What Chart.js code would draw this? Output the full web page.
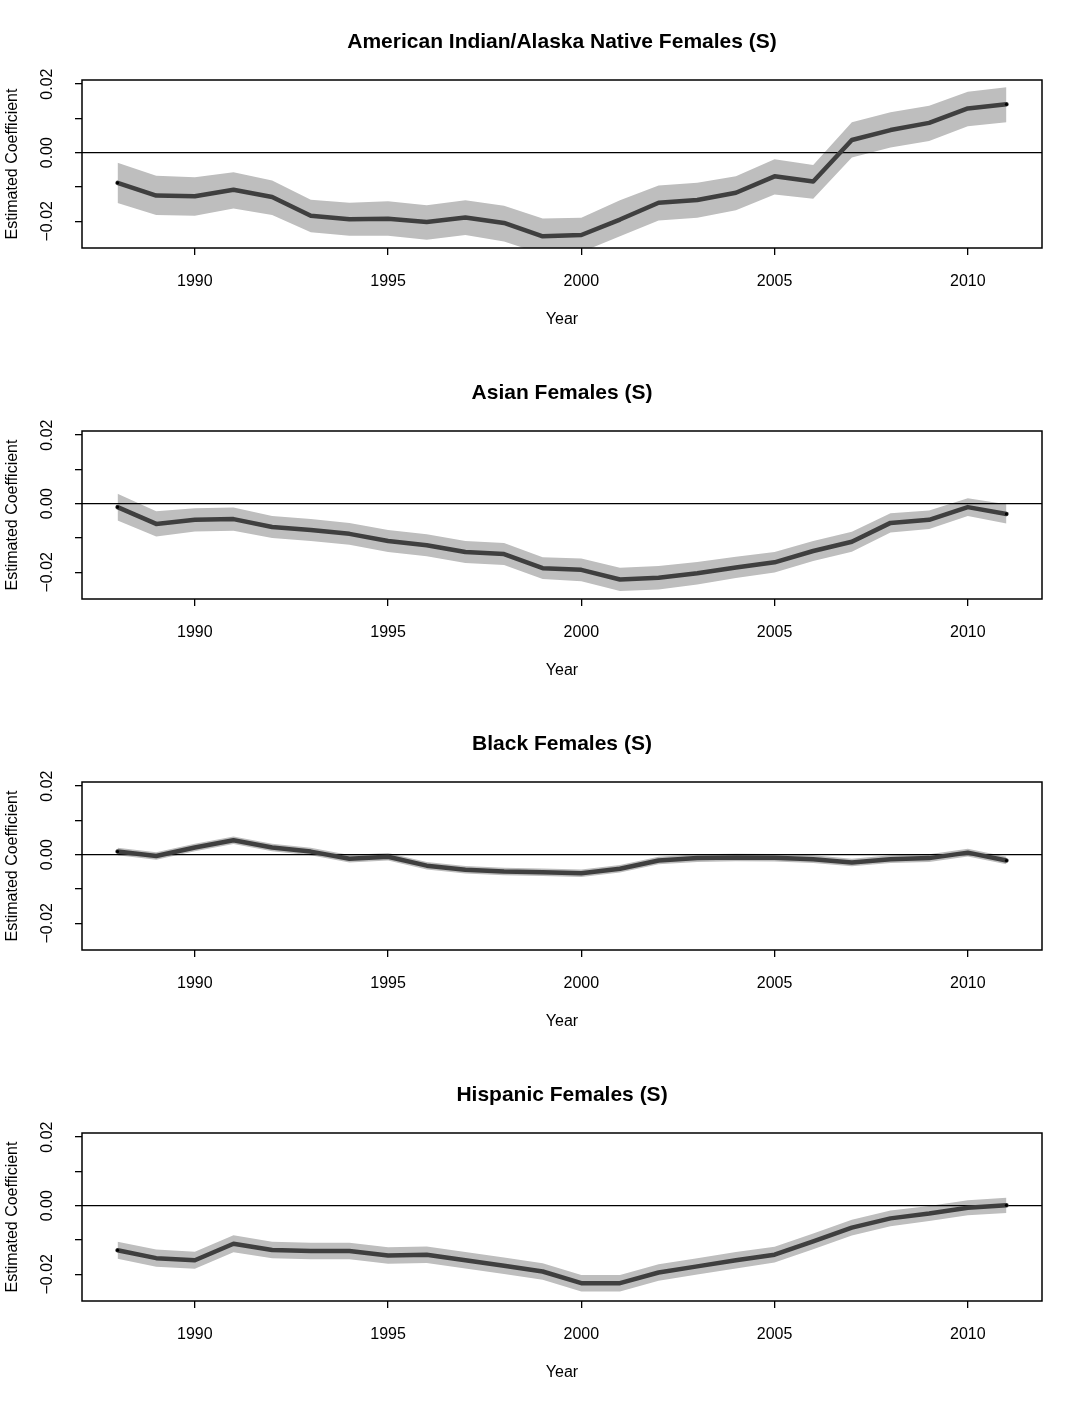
<!DOCTYPE html>
<html>
<head>
<meta charset="utf-8">
<script src="https://cdn.jsdelivr.net/npm/chart.js@4.4.1/dist/chart.umd.min.js"></script>
<style>
  html, body { margin: 0; padding: 0; background: #fff; }
  .painel { width: 1084px; height: 351px; }
  canvas { display: block; }
</style>
</head>
<body>
<div class="painel"><canvas id="c0" width="1084" height="351"></canvas></div>
<div class="painel"><canvas id="c1" width="1084" height="351"></canvas></div>
<div class="painel"><canvas id="c2" width="1084" height="351"></canvas></div>
<div class="painel"><canvas id="c3" width="1084" height="351"></canvas></div>
<script>
// anos e rotulos dos eixos
const anos = [1988, 1989, 1990, 1991, 1992, 1993, 1994, 1995, 1996, 1997, 1998, 1999,
  2000, 2001, 2002, 2003, 2004, 2005, 2006, 2007, 2008, 2009, 2010, 2011];
const anosTicks = [1990, 1995, 2000, 2005, 2010];
const yTicks = [-0.02, -0.01, 0, 0.01, 0.02];
const yRotulos = ['\u22120.02', '', '0.00', '', '0.02'];
const titulos = [
  'American Indian/Alaska Native Females (S)',
  'Asian Females (S)',
  'Black Females (S)',
  'Hispanic Females (S)'
];

// American Indian/Alaska Native
const ajusteAian = [-0.0088, -0.0125, -0.0127, -0.0108, -0.0129, -0.0184, -0.0194, -0.0193, -0.0202, -0.0189, -0.0205, -0.0244,
  -0.0240, -0.0195, -0.0146, -0.0138, -0.0117, -0.0069, -0.0084, 0.0037, 0.0066, 0.0087, 0.0129, 0.0141];
const supAian = [-0.0029, -0.0067, -0.0072, -0.0057, -0.0081, -0.0137, -0.0146, -0.0142, -0.0153, -0.0139, -0.0155, -0.0192,
  -0.0190, -0.0139, -0.0096, -0.0088, -0.0069, -0.0019, -0.0036, 0.0089, 0.0118, 0.0137, 0.0178, 0.0191];
const infAian = [-0.0147, -0.0182, -0.0184, -0.0163, -0.0182, -0.0232, -0.0242, -0.0242, -0.0254, -0.0240, -0.0259, -0.0296,
  -0.0290, -0.0244, -0.0198, -0.0190, -0.0168, -0.0122, -0.0134, -0.0014, 0.0015, 0.0034, 0.0077, 0.0089];

// Asian
const ajusteAsia = [-0.0010, -0.0059, -0.0047, -0.0045, -0.0068, -0.0077, -0.0088, -0.0109, -0.0121, -0.0141, -0.0147, -0.0188,
  -0.0193, -0.0221, -0.0216, -0.0203, -0.0186, -0.0171, -0.0138, -0.0111, -0.0056, -0.0047, -0.0010, -0.0030];
const supAsia = [0.0029, -0.0022, -0.0013, -0.0011, -0.0036, -0.0045, -0.0056, -0.0077, -0.0089, -0.0109, -0.0115, -0.0156,
  -0.0160, -0.0187, -0.0182, -0.0170, -0.0155, -0.0141, -0.0109, -0.0082, -0.0028, -0.0020, 0.0016, -0.0002];
const infAsia = [-0.0049, -0.0096, -0.0081, -0.0079, -0.0100, -0.0109, -0.0120, -0.0141, -0.0153, -0.0173, -0.0179, -0.0220,
  -0.0226, -0.0255, -0.0250, -0.0236, -0.0217, -0.0201, -0.0167, -0.0140, -0.0084, -0.0074, -0.0036, -0.0058];

// Black
const ajusteNegra = [0.0009, -0.0004, 0.0021, 0.0042, 0.0021, 0.0009, -0.0012, -0.0006, -0.0032, -0.0044, -0.0049, -0.0051,
  -0.0054, -0.0041, -0.0017, -0.0010, -0.0008, -0.0009, -0.0013, -0.0023, -0.0013, -0.0010, 0.0006, -0.0017];
const supNegra = [0.0020, 0.0007, 0.0032, 0.0053, 0.0032, 0.0020, -0.0001, 0.0005, -0.0021, -0.0033, -0.0038, -0.0040,
  -0.0043, -0.0030, -0.0006, 0.0001, 0.0003, 0.0002, -0.0002, -0.0012, -0.0002, 0.0001, 0.0017, -0.0006];
const infNegra = [-0.0002, -0.0015, 0.0010, 0.0031, 0.0010, -0.0002, -0.0023, -0.0017, -0.0043, -0.0055, -0.0060, -0.0062,
  -0.0065, -0.0052, -0.0028, -0.0021, -0.0019, -0.0020, -0.0024, -0.0034, -0.0024, -0.0021, -0.0005, -0.0028];

// Hispanic
const ajusteHisp = [-0.0130, -0.0153, -0.0159, -0.0111, -0.0129, -0.0132, -0.0132, -0.0145, -0.0143, -0.0159, -0.0175, -0.0192,
  -0.0226, -0.0226, -0.0195, -0.0177, -0.0159, -0.0143, -0.0104, -0.0064, -0.0037, -0.0023, -0.0006, 0.0001];
const supHisp = [-0.0105, -0.0128, -0.0134, -0.0086, -0.0105, -0.0108, -0.0108, -0.0121, -0.0119, -0.0135, -0.0151, -0.0168,
  -0.0202, -0.0202, -0.0171, -0.0153, -0.0135, -0.0120, -0.0081, -0.0041, -0.0014, -0.0001, 0.0016, 0.0023];
const infHisp = [-0.0155, -0.0178, -0.0184, -0.0136, -0.0153, -0.0156, -0.0156, -0.0169, -0.0167, -0.0183, -0.0199, -0.0216,
  -0.0250, -0.0250, -0.0219, -0.0201, -0.0183, -0.0166, -0.0127, -0.0087, -0.0060, -0.0045, -0.0028, -0.0021];

const paineis = [
  { ajuste: ajusteAian, sup: supAian, inf: infAian },
  { ajuste: ajusteAsia, sup: supAsia, inf: infAsia },
  { ajuste: ajusteNegra, sup: supNegra, inf: infNegra },
  { ajuste: ajusteHisp, sup: supHisp, inf: infHisp }
];

const FONTE = '"Liberation Sans", Arial, Helvetica, sans-serif';
Chart.defaults.color = '#000';
Chart.defaults.font.family = FONTE;

function pts(vals) { return anos.map((a, i) => ({ x: a, y: vals[i] })); }

// linha do zero, moldura, titulo e rotulos verticais do eixo y (estilo R)
const estiloR = {
  id: 'estiloR',
  beforeDatasetDraw(chart, args) {
    if (args.index !== 0) return;
    const { ctx, chartArea: a, scales: { y } } = chart;
    const y0 = y.getPixelForValue(0);
    ctx.save();
    ctx.strokeStyle = '#000'; ctx.lineWidth = 1.3;
    ctx.beginPath(); ctx.moveTo(a.left, y0); ctx.lineTo(a.right, y0); ctx.stroke();
    ctx.restore();
  },
  afterDraw(chart, args, opts) {
    const { ctx, chartArea: a, scales: { y } } = chart;
    ctx.save();
    ctx.strokeStyle = '#000'; ctx.lineWidth = 1.5;
    ctx.strokeRect(a.left, a.top, a.right - a.left, a.bottom - a.top);
    ctx.fillStyle = '#000';
    ctx.textAlign = 'center'; ctx.textBaseline = 'middle';
    ctx.font = 'bold 21px ' + FONTE;
    ctx.fillText(opts.titulo, (a.left + a.right) / 2, 42);
    ctx.font = '16px ' + FONTE;
    yTicks.forEach((v, i) => {
      if (!yRotulos[i]) return;
      ctx.save();
      ctx.translate(48, y.getPixelForValue(v));
      ctx.rotate(-Math.PI / 2);
      ctx.fillText(yRotulos[i], 0, 0);
      ctx.restore();
    });
    ctx.restore();
  }
};

function desenhar(idx) {
  const p = paineis[idx];
  const ultimo = anos.length - 1;
  new Chart(document.getElementById('c' + idx), {
    type: 'line',
    data: {
      datasets: [
        { data: pts(p.ajuste), borderColor: '#3f3f3f', borderWidth: 4.5, fill: false,
          borderJoinStyle: 'round', borderCapStyle: 'round', tension: 0,
          pointRadius: c => (c.dataIndex === 0 || c.dataIndex === ultimo) ? 1.6 : 0,
          pointBackgroundColor: '#000', pointBorderWidth: 0 },
        { data: pts(p.sup), borderWidth: 0, pointRadius: 0, fill: '+1', backgroundColor: '#bebebe', tension: 0 },
        { data: pts(p.inf), borderWidth: 0, pointRadius: 0, fill: false, tension: 0 }
      ]
    },
    options: {
      responsive: false, animation: false, events: [],
      layout: { padding: { top: 80, right: 42, left: 0, bottom: 0 } },
      plugins: {
        legend: { display: false }, tooltip: { enabled: false },
        filler: { drawTime: 'beforeDatasetsDraw' },
        estiloR: { titulo: titulos[idx] }
      },
      scales: {
        x: {
          type: 'linear', min: 1987.08, max: 2011.92,
          afterBuildTicks: s => { s.ticks = anosTicks.map(v => ({ value: v })); },
          afterFit: s => { s.height = 103; },
          ticks: { font: { size: 16 }, padding: 17, maxRotation: 0, callback: v => String(v) },
          grid: { drawOnChartArea: false, drawTicks: true, tickLength: 7, color: '#000', lineWidth: 1.3 },
          border: { display: false },
          title: { display: true, text: 'Year', font: { size: 16 }, padding: { top: 0, bottom: 22 } }
        },
        y: {
          type: 'linear', min: -0.0278, max: 0.0212,
          afterBuildTicks: s => { s.ticks = yTicks.map(v => ({ value: v })); },
          afterFit: s => { s.width = 82; },
          ticks: { display: false },
          grid: { drawOnChartArea: false, drawTicks: true, tickLength: 7, color: '#000', lineWidth: 1.3 },
          border: { display: false },
          title: { display: true, text: 'Estimated Coefficient', font: { size: 16 }, padding: { top: 3, bottom: 0 } }
        }
      }
    },
    plugins: [estiloR]
  });
}

paineis.forEach((_, i) => desenhar(i));
</script>
</body>
</html>
